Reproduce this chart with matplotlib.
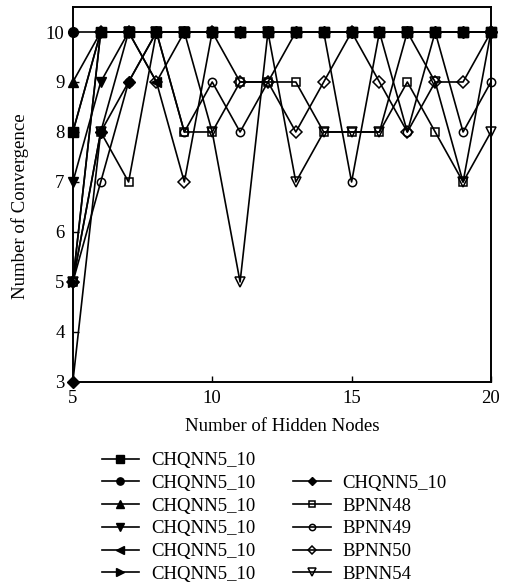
import numpy as np
import matplotlib
matplotlib.use('Agg')
import matplotlib.pyplot as plt
from matplotlib.lines import Line2D

plt.rcParams['font.family'] = ['Liberation Serif', 'DejaVu Serif']

hidden_nodes = np.arange(5, 21)

# CHQNN runs (filled markers)
chq_square = [8, 10, 10, 10, 10, 10, 10, 10, 10, 10, 10, 10, 10, 10, 10, 10]
chq_circle = [10, 10, 10, 10, 10, 10, 10, 10, 10, 10, 10, 10, 10, 10, 10, 10]
chq_tri_up = [9, 10, 10, 10, 10, 10, 10, 10, 10, 10, 10, 10, 10, 10, 10, 10]
chq_tri_down = [7, 9, 10, 10, 10, 10, 10, 10, 10, 10, 10, 10, 10, 10, 10, 10]
chq_tri_left = [8, 10, 10, 9, 10, 10, 10, 10, 10, 10, 10, 10, 10, 10, 10, 10]
chq_tri_right = [5, 10, 10, 10, 10, 10, 10, 10, 10, 10, 10, 10, 10, 10, 10, 10]
chq_diamond = [3, 8, 9, 10, 10, 10, 10, 10, 10, 10, 10, 10, 10, 10, 10, 10]

# BPNN runs (open markers)
bpnn48 = [5, 8, 7, 10, 8, 8, 9, 9, 9, 8, 8, 8, 9, 8, 7, 10]
bpnn49 = [5, 7, 9, 10, 8, 9, 8, 9, 10, 10, 7, 10, 8, 10, 8, 9]
bpnn50 = [5, 10, 10, 9, 7, 10, 9, 9, 8, 9, 10, 9, 8, 9, 9, 10]
bpnn54 = [5, 8, 10, 10, 10, 8, 5, 10, 7, 8, 8, 8, 10, 9, 7, 8]

labels_chq = ['CHQNN5_10'] * 7
labels_bp = ['BPNN48', 'BPNN49', 'BPNN50', 'BPNN54']

fig = plt.figure(figsize=(5.13, 5.84), dpi=100)
ax = fig.add_axes([0.142, 0.346, 0.815, 0.642])

lw = 1.2
# open markers first so filled ones sit on top
bp_series = [(bpnn48, 's'), (bpnn49, 'o'), (bpnn50, 'D'), (bpnn54, 'v')]
bp_handles = []
for (vals, m), lab in zip(bp_series, labels_bp):
    ms = 7.5 if m == 'v' else 6
    h, = ax.plot(hidden_nodes, vals, color='black', lw=lw, marker=m, ms=ms,
                 mfc='none', mec='black', mew=1.1, label=lab, clip_on=False)
    bp_handles.append(h)

chq_series = [(chq_square, 's'), (chq_circle, 'o'), (chq_tri_up, '^'),
              (chq_tri_down, 'v'), (chq_tri_left, '<'), (chq_tri_right, '>'),
              (chq_diamond, 'D')]
chq_handles = []
for (vals, m), lab in zip(chq_series, labels_chq):
    ms = 6 if m == 'D' else 7
    h, = ax.plot(hidden_nodes, vals, color='black', lw=lw, marker=m, ms=ms,
                 mfc='black', mec='black', label=lab, clip_on=False)
    chq_handles.append(h)

ax.set_xlim(5, 20)
ax.set_ylim(3, 10.5)
ax.set_xticks([5, 10, 15, 20])
ax.set_yticks(range(3, 11))
ax.tick_params(direction='in', length=4, width=1.0, labelsize=13.5, pad=6,
               top=False, right=False)
for sp in ax.spines.values():
    sp.set_linewidth(1.4)

ax.set_xlabel('Number of Hidden Nodes', fontsize=13.5)
ax.set_ylabel('Number of Convergence', fontsize=13.5)
ax.xaxis.set_label_coords(0.5, -0.095)
ax.yaxis.set_label_coords(-0.105, 0.47)

blank = Line2D([], [], color='none')
handles = chq_handles[:6] + [blank, chq_handles[6]] + bp_handles
labels = labels_chq[:6] + [''] + [labels_chq[6]] + labels_bp
fig.legend(handles, labels, loc='upper left', bbox_to_anchor=(0.198, 0.226),
           ncol=2, frameon=False, fontsize=13.5, handlelength=2.0,
           handletextpad=0.65, columnspacing=2.0, labelspacing=0.3,
           borderpad=0, borderaxespad=0, markerscale=0.75)

fig.savefig('out.png', dpi=100)
